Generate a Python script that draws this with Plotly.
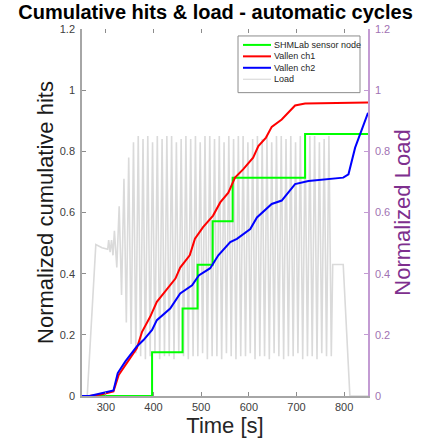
import plotly.graph_objects as go

# ---------------- data ----------------
shm_time = [250, 397, 461, 492.5, 524, 566, 718, 850]
shm_value = [0, 0.143, 0.286, 0.429, 0.571, 0.714, 0.857, 0.857]

ch1_time = [250, 265, 290, 316, 327, 345, 365, 376, 393, 407, 426, 446, 456, 476, 487,
            504, 525, 540, 557, 571, 588, 609, 620, 636, 648, 669, 697, 718, 850]
ch1_value = [0, 0, 0.005, 0.015, 0.069, 0.112, 0.156, 0.21, 0.259, 0.308, 0.345, 0.384,
             0.42, 0.46, 0.514, 0.552, 0.59, 0.633, 0.665, 0.714, 0.741, 0.779, 0.817,
             0.845, 0.88, 0.904, 0.95, 0.956, 0.96]

ch2_time = [250, 266, 316, 325, 341, 365, 379, 397, 407, 435, 456, 481, 495, 519, 536,
            561, 575, 603, 617, 648, 669, 697, 725, 798, 809, 823, 850]
ch2_value = [0, 0, 0.018, 0.075, 0.113, 0.162, 0.183, 0.216, 0.248, 0.286, 0.335, 0.362,
             0.394, 0.418, 0.46, 0.503, 0.514, 0.546, 0.584, 0.628, 0.639, 0.693, 0.703,
             0.714, 0.725, 0.812, 0.926]

load_pre_time = [250, 261, 279, 292, 304, 306, 309, 312, 315]
load_pre_value = [0, 0, 0.495, 0.485, 0.48, 0.51, 0.47, 0.51, 0.46]

load_peak_time = [318, 328, 338, 348, 358, 368, 378, 388, 398, 408, 418, 428, 438, 448,
                  458, 468, 478, 488, 498, 508, 518, 528, 538, 548, 558, 568, 578, 588,
                  598, 608, 618, 628, 638, 648, 658, 668, 678, 688, 698, 708, 718, 728,
                  738, 748, 758, 768]
load_peak_value = [0.54, 0.62, 0.71, 0.78, 0.83, 0.85, 0.84, 0.85, 0.83, 0.85, 0.84, 0.85,
                   0.85, 0.83, 0.84, 0.85, 0.84, 0.85, 0.83, 0.85, 0.85, 0.84, 0.85, 0.83,
                   0.85, 0.84, 0.85, 0.85, 0.83, 0.84, 0.85, 0.84, 0.85, 0.83, 0.85, 0.85,
                   0.84, 0.85, 0.83, 0.85, 0.84, 0.85, 0.85, 0.83, 0.84, 0.85]
load_trough_time = [323, 333, 343, 353, 363, 373, 383, 393, 403, 413, 423, 433, 443, 453,
                    463, 473, 483, 493, 503, 513, 523, 533, 543, 553, 563, 573, 583, 593,
                    603, 613, 623, 633, 643, 653, 663, 673, 683, 693, 703, 713, 723, 733,
                    743, 753, 763, 773]
load_trough_value = [0.42, 0.33, 0.24, 0.17, 0.14, 0.13, 0.12, 0.13, 0.14, 0.12, 0.13, 0.13,
                     0.12, 0.14, 0.13, 0.12, 0.13, 0.13, 0.14, 0.12, 0.13, 0.13, 0.12, 0.14,
                     0.13, 0.12, 0.13, 0.13, 0.14, 0.12, 0.13, 0.13, 0.12, 0.14, 0.13, 0.12,
                     0.13, 0.13, 0.14, 0.12, 0.13, 0.13, 0.12, 0.14, 0.13, 0.13]

load_post_time = [776, 798, 812, 850]
load_post_value = [0.43, 0.43, 0, 0]

x_ticks = [300, 400, 500, 600, 700, 800]
y_ticks = [0, 0.2, 0.4, 0.6, 0.8, 1, 1.2]
y_tick_text = ["0", "0.2", "0.4", "0.6", "0.8", "1", "1.2"]

legend_names = ["SHMLab sensor node", "Vallen ch1", "Vallen ch2", "Load"]

# build the load curve (peaks and troughs interleaved)
load_time = list(load_pre_time)
load_value = list(load_pre_value)
for pt, pv, tt, tv in zip(load_peak_time, load_peak_value, load_trough_time, load_trough_value):
    load_time += [pt, tt]
    load_value += [pv, tv]
load_time += load_post_time
load_value += load_post_value

# ---------------- figure ----------------
FONT = "Liberation Sans, Arial, Helvetica, sans-serif"
PURPLE = "#7E2F8E"
W, H = 431, 444
ML, MR, MT, MB = 82, 63, 29, 46
PW, PH = W - ML - MR, H - MT - MB

GREEN, RED, BLUE, GRAY = "#00ff00", "#ff0000", "#0000ff", "#dadada"

fig = go.Figure()
fig.add_trace(go.Scatter(x=load_time, y=load_value, mode="lines", name=legend_names[3],
                         line=dict(color=GRAY, width=1.6), hoverinfo="skip"))
fig.add_trace(go.Scatter(x=shm_time, y=shm_value, mode="lines", name=legend_names[0],
                         line=dict(color=GREEN, width=2, shape="hv")))
fig.add_trace(go.Scatter(x=ch1_time, y=ch1_value, mode="lines", name=legend_names[1],
                         line=dict(color=RED, width=2)))
fig.add_trace(go.Scatter(x=ch2_time, y=ch2_value, mode="lines", name=legend_names[2],
                         line=dict(color=BLUE, width=2)))
# invisible trace that registers the right / top axes
fig.add_trace(go.Scatter(x=load_time[:2], y=load_value[:2], mode="lines", xaxis="x2", yaxis="y2",
                         line=dict(width=0), opacity=0, hoverinfo="skip"))


def px_x(px):
    return (px - ML) / PW


def px_y(py):
    return (H - MB - py) / PH


# custom legend (compact, like the reference)
shapes = [dict(type="rect", xref="paper", yref="paper",
               x0=px_x(238), x1=px_x(360), y0=px_y(93), y1=px_y(36),
               line=dict(color="#8c8c8c", width=1), fillcolor="white", layer="above")]
annotations = []
legend_colors = [GREEN, RED, BLUE, "#d3d3d3"]
legend_widths = [2, 2, 2, 1]
legend_rows = [45, 56.5, 68, 79.5]
for name, col, lw, yy in zip(legend_names, legend_colors, legend_widths, legend_rows):
    shapes.append(dict(type="line", xref="paper", yref="paper",
                       x0=px_x(243), x1=px_x(271), y0=px_y(yy), y1=px_y(yy),
                       line=dict(color=col, width=lw), layer="above"))
    annotations.append(dict(text=name, xref="paper", yref="paper", x=px_x(272), y=px_y(yy),
                            xanchor="left", yanchor="middle", showarrow=False,
                            font=dict(size=9, color="#262626", family=FONT)))

fig.update_layout(
    width=W, height=H,
    margin=dict(l=ML, r=MR, t=MT, b=MB),
    paper_bgcolor="white", plot_bgcolor="white",
    font=dict(family=FONT, color="#262626"),
    title=dict(text="<b>Cumulative hits & load - automatic cycles</b>",
               font=dict(size=20, color="black", family=FONT),
               x=0.5, xref="container", xanchor="center",
               y=1 - 12 / H, yref="container", yanchor="middle"),
    showlegend=False,
    shapes=shapes,
    annotations=annotations,
    xaxis=dict(range=[250, 850], tickvals=x_ticks, ticks="inside", ticklen=4,
               tickcolor="#8c8c8c", showline=True, linecolor="#a6a6a6", linewidth=1.5,
               showgrid=False, zeroline=False,
               tickfont=dict(size=11, color="#404040"),
               title=dict(text="Time [s]", font=dict(size=22, color="#262626"), standoff=4)),
    xaxis2=dict(range=[250, 850], overlaying="x", side="top", tickvals=x_ticks,
                ticks="inside", ticklen=4, tickcolor="#8c8c8c", showticklabels=False,
                showline=False, showgrid=False, zeroline=False),
    yaxis=dict(range=[0, 1.2], tickvals=y_ticks, ticktext=y_tick_text, ticks="inside",
               ticklen=4, tickcolor="#8c8c8c", showline=True, linecolor="#a6a6a6",
               linewidth=1.5, showgrid=False, zeroline=False,
               tickfont=dict(size=11, color="#404040"), ticklabelstandoff=3,
               title=dict(text="Normalized cumulative hits",
                          font=dict(size=22, color="#1a1a1a"), standoff=0)),
    yaxis2=dict(range=[0, 1.2], overlaying="y", side="right", anchor="x",
                tickvals=y_ticks, ticktext=y_tick_text, ticks="inside", ticklen=4,
                tickcolor="#c39bd3", showline=True, linecolor="#c39bd3", linewidth=1.5,
                showgrid=False, zeroline=False,
                tickfont=dict(size=11, color="#9f72b3"), ticklabelstandoff=3,
                title=dict(text="Normalized Load", font=dict(size=22, color=PURPLE),
                           standoff=4)),
)

fig.write_html("out.html")
